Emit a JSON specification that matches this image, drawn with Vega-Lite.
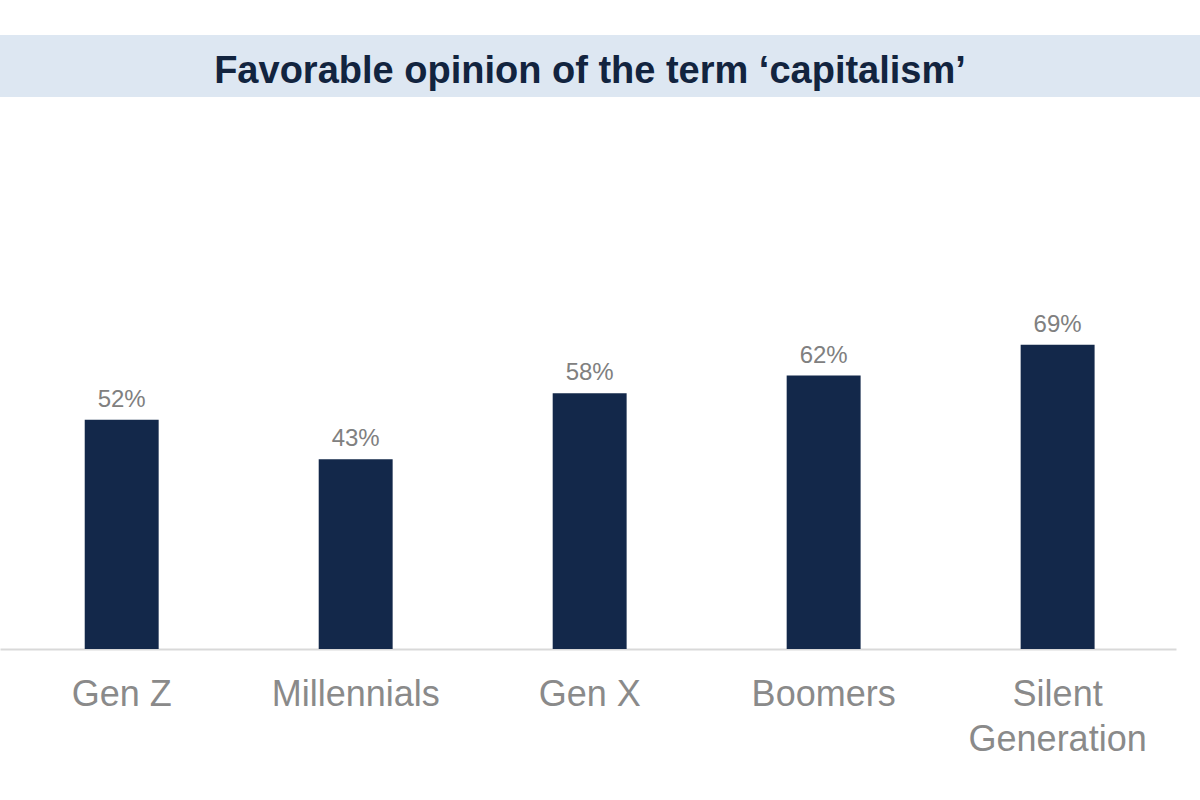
{
  "$schema": "https://vega.github.io/schema/vega-lite/v6.json",
  "padding": {"top": 35, "left": 0, "right": 0, "bottom": 0},
  "autosize": {"type": "pad"},
  "background": "white",
  "spacing": 111,
  "bounds": "full",
  "config": {
    "font": "Liberation Sans",
    "view": {"stroke": null}
  },
  "vconcat": [
    {
      "width": 1200,
      "height": 62,
      "view": {"fill": "#dde7f2", "stroke": null},
      "data": {"values": [{"heading": "Favorable opinion of the term ‘capitalism’"}]},
      "mark": {
        "type": "text",
        "font": "Liberation Sans",
        "fontWeight": "bold",
        "fontSize": 38,
        "color": "#12243f",
        "baseline": "alphabetic",
        "align": "center",
        "dx": -10,
        "dy": 17
      },
      "encoding": {"text": {"field": "heading"}}
    },
    {
      "width": 1176,
      "height": 441,
      "data": {
        "values": [
          {"generation": "Gen Z", "favorable": 0.52},
          {"generation": "Millennials", "favorable": 0.43},
          {"generation": "Gen X", "favorable": 0.58},
          {"generation": "Boomers", "favorable": 0.62},
          {"generation": "Silent Generation", "favorable": 0.69}
        ]
      },
      "encoding": {
        "x": {
          "field": "generation",
          "type": "nominal",
          "sort": null,
          "scale": {"paddingInner": 0.684, "paddingOuter": 0.355, "align": 0.51},
          "axis": {
            "title": null,
            "domainColor": "#d9d9d9",
            "domainWidth": 2,
            "ticks": false,
            "labelAngle": 0,
            "labelFont": "Liberation Sans",
            "labelFontSize": 36,
            "labelColor": "#8a8a8a",
            "labelPadding": 28,
            "labelLineHeight": 45,
            "labelExpr": "datum.value == 'Silent Generation' ? ['Silent', 'Generation'] : datum.value"
          }
        },
        "y": {
          "field": "favorable",
          "type": "quantitative",
          "scale": {"domain": [0, 1]},
          "axis": null
        }
      },
      "layer": [
        {"mark": {"type": "bar", "color": "#13284a"}},
        {
          "mark": {
            "type": "text",
            "font": "Liberation Sans",
            "fontSize": 24,
            "color": "#808080",
            "baseline": "alphabetic",
            "dy": -13
          },
          "encoding": {
            "text": {"field": "favorable", "type": "quantitative", "format": ".0%"}
          }
        }
      ]
    }
  ]
}
